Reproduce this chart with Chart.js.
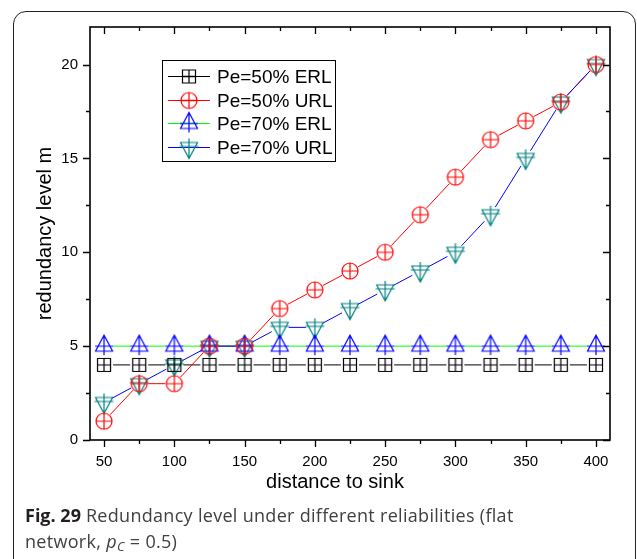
<!DOCTYPE html>
<html lang="en">
<head>
    <meta charset="UTF-8">
    <title>Redundancy level</title>
    <script src="https://cdn.jsdelivr.net/npm/chart.js"></script>
    <style>
        body {
            margin: 0;
            background: #fff;
            width: 637px;
            height: 559px;
            overflow: hidden;
            position: relative;
        }
        canvas {
            position: absolute;
            left: 0;
            top: 0;
        }
        .frame {
            position: absolute;
            left: 13px;
            top: 11px;
            width: 623px;
            height: 562px;
            box-sizing: border-box;
            border: 1.5px solid #222;
            border-radius: 13px;
        }
        .caption {
            position: absolute;
            left: 25px;
            top: 502px;
            width: 600px;
            font-family: "Open Sans", Lato, sans-serif;
            font-size: 18px;
            letter-spacing: 0.3px;
            line-height: 26px;
            color: #404040;
            white-space: nowrap;
        }
        .caption b { font-weight: bold; color: #231f20; letter-spacing: 0; }
        .caption i { font-style: italic; }
        .caption sub { font-size: 13px; vertical-align: -3px; line-height: 0; }
    </style>
</head>
<body>
    <canvas id="chart" width="637" height="500"></canvas>
    <div class="frame"></div>
    <div class="caption"><b>Fig. 29</b> Redundancy level under different reliabilities (flat<br>network, <i>p</i><sub><i>C</i></sub> = 0.5)</div>

    <script>
        // distance to sink (x axis)
        const distance = [50, 75, 100, 125, 150, 175, 200, 225, 250, 275, 300, 325, 350, 375, 400];

        // redundancy level m for each scheme
        const erl50 = [4, 4, 4, 4, 4, 4, 4, 4, 4, 4, 4, 4, 4, 4, 4];
        const url50 = [1, 3, 3, 5, 5, 7, 8, 9, 10, 12, 14, 16, 17, 18, 20];
        const erl70 = [5, 5, 5, 5, 5, 5, 5, 5, 5, 5, 5, 5, 5, 5, 5];
        const url70 = [2, 3, 4, 5, 5, 6, 6, 7, 8, 9, 10, 12, 15, 18, 20];

        const seriesNames = ['Pe=50% ERL', 'Pe=50% URL', 'Pe=70% ERL', 'Pe=70% URL'];
        const xTicks = [50, 100, 150, 200, 250, 300, 350, 400];
        const yTicks = [0, 5, 10, 15, 20];

        const FONT = 'Arial, "Liberation Sans", sans-serif';

        // Origin style symbols: open shape with a cross through the centre
        function makeMarker(shape, color) {
            const c = document.createElement('canvas');
            c.width = 28;
            c.height = 28;
            const g = c.getContext('2d');
            g.strokeStyle = color;
            g.lineWidth = 1.2;
            const m = 14;
            g.beginPath();
            if (shape === 'square') {
                g.rect(m - 6.5, m - 6.5, 13, 13);
                g.moveTo(m - 6.5, m); g.lineTo(m + 6.5, m);
                g.moveTo(m, m - 6.5); g.lineTo(m, m + 6.5);
            } else if (shape === 'circle') {
                g.arc(m, m, 8, 0, Math.PI * 2);
                g.moveTo(m - 8, m); g.lineTo(m + 8, m);
                g.moveTo(m, m - 8); g.lineTo(m, m + 8);
            } else if (shape === 'up') {
                g.moveTo(m, m - 11); g.lineTo(m + 8.5, m + 5); g.lineTo(m - 8.5, m + 5); g.closePath();
                g.moveTo(m - 9, m); g.lineTo(m + 9, m);
                g.moveTo(m, m - 11); g.lineTo(m, m + 9);
            } else {
                g.moveTo(m - 8.5, m - 5); g.lineTo(m + 8.5, m - 5); g.lineTo(m, m + 11); g.closePath();
                g.moveTo(m - 9.5, m - 1); g.lineTo(m + 9.5, m - 1);
                g.moveTo(m, m - 9); g.lineTo(m, m + 11);
            }
            g.stroke();
            return c;
        }

        function toPoints(values) {
            return distance.map((d, i) => ({ x: d, y: values[i] }));
        }

        const datasets = [
            { label: seriesNames[0], data: toPoints(erl50), borderColor: '#000000', pointStyle: makeMarker('square', '#000000') },
            { label: seriesNames[1], data: toPoints(url50), borderColor: '#ff0000', pointStyle: makeMarker('circle', '#ff0000') },
            { label: seriesNames[2], data: toPoints(erl70), borderColor: '#00ff00', pointStyle: makeMarker('up', '#0000ff') },
            { label: seriesNames[3], data: toPoints(url70), borderColor: '#0000ff', pointStyle: makeMarker('down', '#008080') }
        ].map(ds => Object.assign(ds, { showLine: false, pointRadius: 8 }));

        const GAP = 9; // line stops short of each symbol

        const originStyle = {
            id: 'originStyle',
            beforeDatasetsDraw(chart) {
                const ctx = chart.ctx;
                ctx.save();
                ctx.lineWidth = 1;
                chart.data.datasets.forEach((ds, i) => {
                    const pts = chart.getDatasetMeta(i).data;
                    ctx.strokeStyle = ds.borderColor;
                    ctx.beginPath();
                    for (let k = 1; k < pts.length; k++) {
                        const p = pts[k - 1], q = pts[k];
                        const dx = q.x - p.x, dy = q.y - p.y;
                        const len = Math.hypot(dx, dy);
                        if (len <= GAP * 2) continue;
                        const ux = dx / len, uy = dy / len;
                        ctx.moveTo(p.x + ux * GAP, p.y + uy * GAP);
                        ctx.lineTo(q.x - ux * GAP, q.y - uy * GAP);
                    }
                    ctx.stroke();
                });
                ctx.restore();
            },
            afterDatasetsDraw(chart) {
                const ctx = chart.ctx;
                const a = chart.chartArea;
                const xs = chart.scales.x, ys = chart.scales.y;
                ctx.save();
                ctx.strokeStyle = '#000';

                // ticks: outward on bottom/left, inward on top/right
                ctx.lineWidth = 1.3;
                ctx.beginPath();
                xs.ticks.forEach(t => {
                    if (t.value % 25 !== 0) return;
                    const len = t.value % 50 === 0 ? 7 : 4;
                    const px = Math.round(xs.getPixelForValue(t.value)) + 0.5;
                    ctx.moveTo(px, a.bottom); ctx.lineTo(px, a.bottom + len);
                    ctx.moveTo(px, a.top); ctx.lineTo(px, a.top + len);
                });
                ys.ticks.forEach(t => {
                    const s = t.value / 2.5;
                    if (Math.abs(s - Math.round(s)) > 1e-6) return;
                    const len = Math.round(s) % 2 === 0 ? 7 : 4;
                    const py = Math.round(ys.getPixelForValue(t.value)) + 0.5;
                    ctx.moveTo(a.left, py); ctx.lineTo(a.left - len, py);
                    ctx.moveTo(a.right, py); ctx.lineTo(a.right - len, py);
                });
                ctx.stroke();

                // plot frame
                ctx.lineWidth = 1.6;
                ctx.strokeRect(a.left, a.top, a.right - a.left, a.bottom - a.top);

                // x axis title, sitting a little left of the plot centre
                ctx.fillStyle = '#000';
                ctx.font = '20px ' + FONT;
                ctx.textAlign = 'center';
                ctx.textBaseline = 'middle';
                ctx.fillText('distance to sink', (a.left + a.right) / 2 - 15, a.bottom + 42);

                // legend box
                const lx = a.left + 72, ly = a.top + 33, lw = 173, lh = 101;
                ctx.lineWidth = 1;
                ctx.strokeStyle = '#000';
                ctx.strokeRect(lx + 0.5, ly + 0.5, lw, lh);
                ctx.font = '19px ' + FONT;
                ctx.textAlign = 'left';
                chart.data.datasets.forEach((ds, i) => {
                    const ry = Math.round(ly + 16 + i * 23.6) + 0.5;
                    ctx.strokeStyle = ds.borderColor;
                    ctx.beginPath();
                    ctx.moveTo(lx + 6, ry);
                    ctx.lineTo(lx + 48, ry);
                    ctx.stroke();
                    const img = ds.pointStyle;
                    ctx.drawImage(img, lx + 27 - img.width / 2, ry - img.height / 2);
                    ctx.fillText(ds.label, lx + 55, ry + 1);
                });
                ctx.restore();
            }
        };

        new Chart(document.getElementById('chart'), {
            type: 'scatter',
            data: { datasets: datasets },
            options: {
                responsive: false,
                animation: false,
                layout: { padding: { left: 0, right: 27, top: 27, bottom: 0 } },
                plugins: {
                    legend: { display: false },
                    tooltip: { enabled: false }
                },
                scales: {
                    x: {
                        type: 'linear',
                        min: 40,
                        max: 410,
                        grid: { display: false, drawTicks: false },
                        border: { display: false },
                        afterFit: s => { s.height = 60; },
                        ticks: {
                            stepSize: 25,
                            includeBounds: false,
                            autoSkip: false,
                            maxRotation: 0,
                            padding: 13,
                            color: '#000',
                            font: { family: FONT, size: 15 },
                            callback: v => xTicks.includes(v) ? String(v) : ''
                        }
                    },
                    y: {
                        min: 0,
                        max: 22,
                        grid: { display: false, drawTicks: false },
                        border: { display: false },
                        afterFit: s => { s.width = 90; },
                        ticks: {
                            stepSize: 2.5,
                            includeBounds: false,
                            autoSkip: false,
                            padding: 12,
                            color: '#000',
                            font: { family: FONT, size: 15 },
                            callback: v => yTicks.includes(v) ? String(v) : ''
                        },
                        title: {
                            display: true,
                            text: 'redundancy level m',
                            color: '#000',
                            font: { family: FONT, size: 20 },
                            padding: { top: 33, bottom: 0 }
                        }
                    }
                }
            },
            plugins: [originStyle]
        });
    </script>
</body>
</html>
